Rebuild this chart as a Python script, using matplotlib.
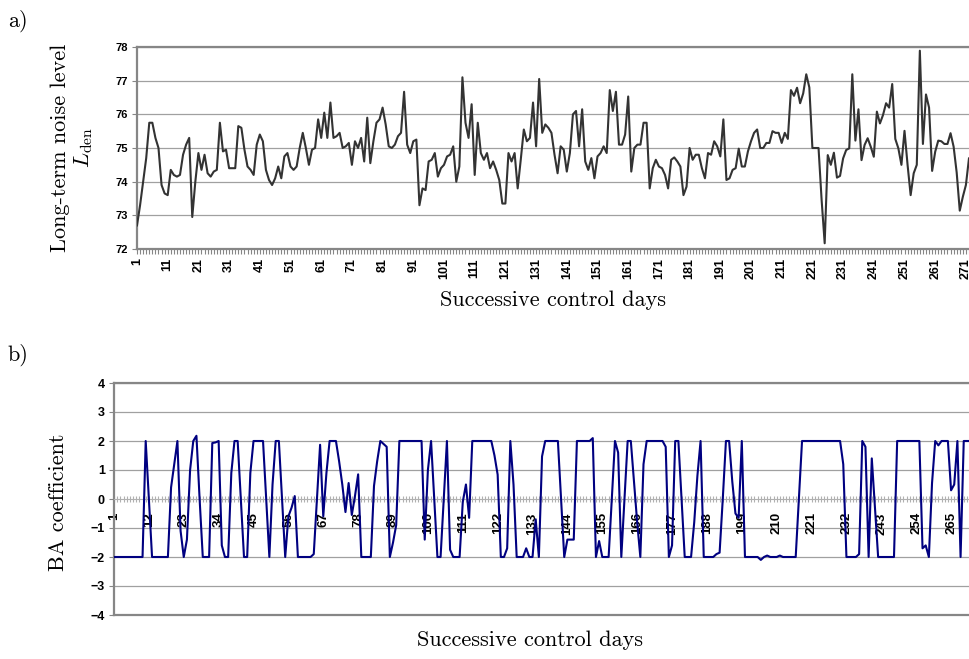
import numpy as np
import matplotlib.pyplot as plt

# long-term noise level L_den per control day
lden = [72.7, 73.3, 74.0, 74.7, 75.75, 75.75, 75.3, 75.0, 73.9, 73.65,
        73.6, 74.35, 74.2, 74.15, 74.2, 74.8, 75.1, 75.3, 72.95, 74.0,
        74.85, 74.35, 74.8, 74.25, 74.15, 74.3, 74.35, 75.75, 74.9, 74.95,
        74.4, 74.4, 74.4, 75.65, 75.6, 74.95, 74.45, 74.35, 74.2, 75.1,
        75.4, 75.2, 74.35, 74.05, 73.9, 74.1, 74.45, 74.1, 74.75, 74.85,
        74.45, 74.35, 74.45, 75.0, 75.45, 75.0, 74.5, 74.95, 75.0, 75.85,
        75.3, 76.05, 75.3, 76.35, 75.3, 75.35, 75.45, 75.0, 75.05, 75.15,
        74.5, 75.2, 75.0, 75.3, 74.6, 75.9, 74.55, 75.2, 75.75, 75.85,
        76.2, 75.7, 75.05, 75.0, 75.1, 75.35, 75.45, 76.67, 75.1, 74.85,
        75.2, 75.25, 73.3, 73.8, 73.75, 74.6, 74.65, 74.85, 74.15, 74.4,
        74.5, 74.75, 74.8, 75.05, 74.0, 74.45, 77.1, 75.75, 75.3, 76.3,
        74.2, 75.75, 74.85, 74.65, 74.85, 74.4, 74.6, 74.35, 74.05, 73.35,
        73.35, 74.85, 74.6, 74.85, 73.8, 74.65, 75.55, 75.2, 75.3, 76.35,
        75.05, 77.05, 75.45, 75.7, 75.6, 75.45, 74.8, 74.25, 75.05, 74.95,
        74.3, 74.85, 76.0, 76.1, 75.05, 76.15, 74.6, 74.35, 74.7, 74.1,
        74.75, 74.85, 75.05, 74.85, 76.72, 76.1, 76.67, 75.1, 75.1, 75.4,
        76.53, 74.3, 75.0, 75.1, 75.1, 75.75, 75.75, 73.8, 74.4, 74.65,
        74.45, 74.4, 74.2, 73.8, 74.65, 74.72, 74.6, 74.45, 73.6, 73.85,
        75.0, 74.65, 74.8, 74.8, 74.4, 74.1, 74.85, 74.8, 75.2, 75.05,
        74.75, 75.85, 74.05, 74.1, 74.35, 74.4, 74.98, 74.45, 74.45, 74.9,
        75.2, 75.45, 75.55, 75.0, 75.0, 75.15, 75.15, 75.5, 75.45, 75.45,
        75.15, 75.45, 75.27, 76.72, 76.55, 76.79, 76.33, 76.62, 77.19, 76.8,
        75.0, 75.0, 75.0, 73.46, 72.17, 74.79, 74.5, 74.86, 74.12, 74.17,
        74.69, 74.94, 74.99, 77.19, 75.22, 76.15, 74.64, 75.09, 75.29, 75.04,
        74.74, 76.08, 75.73, 75.98, 76.33, 76.2, 76.9, 75.27, 74.99, 74.5,
        75.51, 74.5, 73.6, 74.25, 74.5, 77.89, 75.12, 76.59, 76.2, 74.32,
        74.89, 75.22, 75.2, 75.12, 75.12, 75.44, 75.04, 74.27, 73.14, 73.55,
        73.9, 74.69]

# BA coefficient per control day
ba = [-2, -2, -2, -2, -2, -2, -2, -2, -2, -2,
      2, 0, -2, -2, -2, -2, -2, -2, 0.4, 1.2,
      2, -1.1, -2, -1.4, 1.0, 2, 2.18, 0, -2, -2,
      -2, 1.93, 1.95, 2, -1.6, -2, -2, 0.9, 2, 2,
      0, -2, -2, 0.9, 2, 2, 2, 2, 0, -2,
      0.5, 2, 2, 0, -2, -0.6, -0.3, 0.1, -2, -2,
      -2, -2, -2, -1.9, 0, 1.87, -0.6, 0.9, 2, 2,
      2, 1.3, 0.5, -0.45, 0.55, -0.55, 0.1, 0.85, -2, -2,
      -2, -2, 0.45, 1.3, 2, 1.9, 1.8, -2, -1.5, -0.9,
      2, 2, 2, 2, 2, 2, 2, 2, -1.4, 1.0,
      2, 0, -2, -2, 0, 2, -1.75, -2, -2, -2,
      -0.1, 0.5, -0.65, 2, 2, 2, 2, 2, 2, 2,
      1.5, 0.84, -2, -2, -1.7, 2, 0.5, -2, -2, -2,
      -1.7, -2, -2, -0.7, -2, 1.47, 2, 2, 2, 2,
      2, 0, -2, -1.4, -1.4, -1.4, 2, 2, 2, 2,
      2, 2.1, -2, -1.45, -2, -2, -2, 0, 2, 1.6,
      -2, 0, 2, 2, 0.6, -0.8, -2, 1.2, 2, 2,
      2, 2, 2, 2, 1.8, -2, -1.6, 2, 2, 0,
      -2, -2, -2, -0.8, 0.8, 2, -2, -2, -2, -2,
      -1.9, -1.85, 0, 2, 2, 0.6, -0.5, -0.65, 2, -2,
      -2, -2, -2, -2, -2.1, -2, -1.95, -2, -2, -2,
      -1.95, -2, -2, -2, -2, -2, 0, 2, 2, 2,
      2, 2, 2, 2, 2, 2, 2, 2, 2, 2,
      1.2, -2, -2, -2, -2, -1.9, 2, 1.8, -2, 1.4,
      -0.3, -2, -2, -2, -2, -2, -2, 2, 2, 2,
      2, 2, 2, 2, 2, -1.7, -1.6, -2, 0.55, 2,
      1.85, 2, 2, 2, 0.3, 0.5, 2, -2, 2, 2,
      2, 2]

days = np.arange(1, len(lden) + 1)

plt.rcParams['mathtext.fontset'] = 'cm'
GRAY = '#868686'
GRID = '#a0a0a0'
W, H = 969, 659


def box(l, t, r, b):
    return [l / W, 1 - b / H, (r - l) / W, (b - t) / H]


fig = plt.figure(figsize=(9.69, 6.59), dpi=100)

# ---- a) L_den
ax1 = fig.add_axes(box(137, 47, 975, 249))
ax1.plot(days, lden, color='#333333', lw=1.5, zorder=3)
ax1.set_ylim(72, 78)
ax1.set_xlim(1, 1 + (975 - 137) / 3.07)
ax1.set_yticks(range(72, 79))
ax1.yaxis.grid(True, color=GRID, lw=0.9)
ax1.set_axisbelow(True)
ax1.set_xticks(days)
ax1.set_xticklabels([str(d) if (d - 1) % 10 == 0 else '' for d in days],
                    rotation=90, fontsize=9, fontweight='bold',
                    family='Liberation Sans')
for lab in ax1.get_yticklabels():
    lab.set_fontsize(8)
    lab.set_fontweight('bold')
    lab.set_family('Liberation Sans')
ax1.tick_params(axis='x', length=3.5, width=0.8, color=GRAY, pad=3)
ax1.tick_params(axis='y', length=3.5, width=0.8, color=GRAY, pad=3)
for s in ax1.spines.values():
    s.set_color(GRAY)
    s.set_linewidth(1.6)

# ---- b) BA coefficient
ax2 = fig.add_axes(box(114, 383, 975, 615))
ax2.plot(days, ba, color='#000080', lw=1.5, zorder=3)
ax2.set_ylim(-4, 4)
ax2.set_xlim(1, 1 + (975 - 115) / 3.167)
ax2.set_yticks(range(-4, 5))
for y in range(-3, 5):
    if y != 0:
        ax2.axhline(y, color=GRID, lw=0.9, zorder=0)
ax2.axhline(-4, color=GRAY, lw=1.6, zorder=1, clip_on=False)
ax2.spines['bottom'].set_position(('data', 0))
for s in ax2.spines.values():
    s.set_color(GRAY)
    s.set_linewidth(1.6)
ax2.spines['bottom'].set_linewidth(0.8)
ax2.spines['bottom'].set_color('#b0b0b0')
ax2.set_xticks(days)
ax2.set_xticklabels([str(d) if (d - 1) % 11 == 0 else '' for d in days],
                    rotation=90, fontsize=9.5, fontweight='bold',
                    family='Liberation Sans')
for lab in ax2.get_yticklabels():
    lab.set_fontsize(9)
    lab.set_fontweight('bold')
    lab.set_family('Liberation Sans')
ax2.tick_params(axis='x', direction='inout', length=5, width=0.8,
                color='#b0b0b0', pad=7)
ax2.tick_params(axis='y', length=3.5, width=0.8, color=GRAY, pad=3)

# ---- labels
serif = dict(family='cmr10', fontsize=16, ha='center', va='center')
fig.text(18 / W, 1 - 21 / H, 'a)', **serif)
fig.text(60 / W, 1 - 148 / H, 'Long-term noise level', rotation=90, **serif)
fig.text(84 / W, 1 - 148 / H, r'$L_{\mathrm{den}}$', rotation=90,
         fontsize=16, ha='center', va='center')
fig.text(553 / W, 1 - 300 / H, 'Successive control days', **serif)
fig.text(18 / W, 1 - 355 / H, 'b)', **serif)
fig.text(58 / W, 1 - 502 / H, 'BA coefficient', rotation=90, **serif)
fig.text(530 / W, 1 - 640 / H, 'Successive control days', **serif)

fig.savefig('out.png', dpi=100)
